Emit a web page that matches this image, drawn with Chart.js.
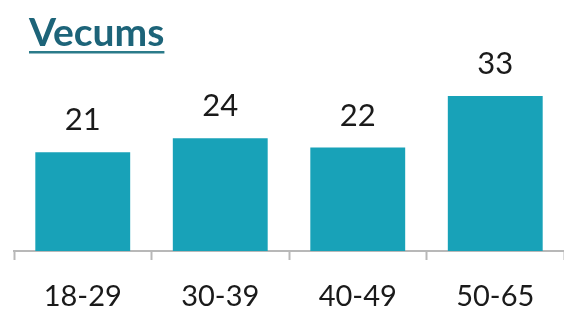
<!DOCTYPE html>
<html>
<head>
<meta charset="utf-8">
<script src="https://cdn.jsdelivr.net/npm/chart.js@4.4.0/dist/chart.umd.min.js"></script>
<style>
  html, body { margin: 0; padding: 0; background: #fff; }
  #wrap { width: 564px; height: 311px; position: relative; }
</style>
</head>
<body>
<div id="wrap"><canvas id="chart"></canvas></div>
<script>
// chart data
const title = 'Vecums';
const categories = ['18-29', '30-39', '40-49', '50-65'];
const values = [21, 24, 22, 33];

// value labels above bars + underlined title
const labelsPlugin = {
    id: 'labels',
    afterDatasetsDraw(chart) {
        const ctx = chart.ctx;
        const meta = chart.getDatasetMeta(0);
        ctx.save();
        ctx.fillStyle = '#1a1a1a';
        ctx.font = '31px Lato';
        ctx.textAlign = 'center';
        ctx.textBaseline = 'alphabetic';
        meta.data.forEach((bar, i) => {
            ctx.fillText(values[i], bar.x, bar.y - 22);
        });
        // title
        ctx.fillStyle = '#1d6479';
        ctx.font = 'bold 39px Lato';
        ctx.textAlign = 'left';
        ctx.fillText(title, 29, 46);
        const w = ctx.measureText(title).width;
        ctx.fillStyle = '#2b7b8a';
        ctx.fillRect(29, 51, w, 2.5);
        ctx.restore();
    }
};

new Chart(document.getElementById('chart'), {
    type: 'bar',
    data: {
        labels: categories,
        datasets: [{
            data: values,
            backgroundColor: '#18a2b8',
            barPercentage: 0.69,
            categoryPercentage: 1
        }]
    },
    options: {
        responsive: true,
        maintainAspectRatio: false,
        animation: false,
        // tick padding counts twice in the axis height, so pull the bottom back
        layout: { padding: { top: 63, left: 14, right: 0, bottom: -22 } },
        plugins: {
            legend: { display: false },
            tooltip: { enabled: false }
        },
        scales: {
            x: {
                offset: true,
                grid: {
                    offset: true,
                    drawOnChartArea: false,
                    tickLength: 9,
                    tickWidth: 2,
                    tickColor: '#b8b8b8'
                },
                border: { color: '#b8b8b8', width: 2 },
                ticks: {
                    color: '#1a1a1a',
                    font: { family: 'Lato', size: 29, lineHeight: 1 },
                    padding: 22
                }
            },
            y: {
                display: false,
                min: 0,
                max: 40
            }
        }
    },
    plugins: [labelsPlugin]
});
</script>
</body>
</html>
